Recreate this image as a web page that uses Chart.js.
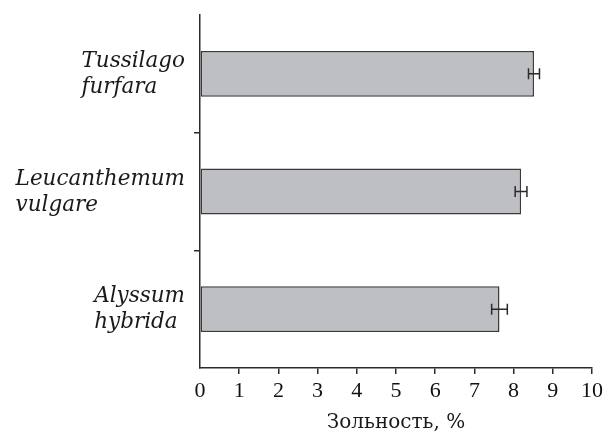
<!DOCTYPE html>
<html>
<head>
<meta charset="utf-8">
<script src="https://cdn.jsdelivr.net/npm/chart.js@4/dist/chart.umd.min.js"></script>
<style>
  html, body { margin: 0; padding: 0; background: #fff; }
  #wrap { width: 605px; height: 433px; }
</style>
</head>
<body>
<div id="wrap"><canvas id="ashChart"></canvas></div>
<script>
// ---------- DATA ----------
const species = [["Tussilago", "furfara"], ["Leucanthemum", "vulgare"], ["Alyssum", "hybrida"]];
const ashValues = [8.52, 8.19, 7.64];
const ashErrors = [0.14, 0.15, 0.2];
const xTickValues = [0, 1, 2, 3, 4, 5, 6, 7, 8, 9, 10];
const axisTitle = "Зольность, %";

const ink = "#2b2b2b";
const serif = "'DejaVu Serif', 'Liberation Serif', serif";
const numSerif = "'Liberation Serif', 'DejaVu Serif', serif";

// ---------- ERROR BARS ----------
const errorBars = {
  id: "errorBars",
  afterDatasetsDraw(chart) {
    const { ctx } = chart;
    const xs = chart.scales.x;
    const meta = chart.getDatasetMeta(0);
    ctx.save();
    ctx.strokeStyle = ink;
    ctx.lineWidth = 1.5;
    meta.data.forEach((bar, i) => {
      const x1 = xs.getPixelForValue(ashValues[i] - ashErrors[i]);
      const x2 = xs.getPixelForValue(ashValues[i] + ashErrors[i]);
      const y = bar.y;
      ctx.beginPath();
      ctx.moveTo(x1, y); ctx.lineTo(x2, y);
      ctx.moveTo(x1, y - 5.5); ctx.lineTo(x1, y + 5.5);
      ctx.moveTo(x2, y - 5.5); ctx.lineTo(x2, y + 5.5);
      ctx.stroke();
    });
    ctx.restore();
  }
};

// ---------- SPECIES LABELS (two lines, left aligned in a block) ----------
const speciesLabels = {
  id: "speciesLabels",
  afterDraw(chart) {
    const { ctx } = chart;
    const ys = chart.scales.y;
    ctx.save();
    ctx.font = "italic 21.5px " + serif;
    ctx.fillStyle = "#1a1a1a";
    ctx.textBaseline = "alphabetic";
    ctx.textAlign = "left";
    species.forEach((lines, i) => {
      const w = Math.max(...lines.map(t => ctx.measureText(t).width));
      const left = ys.right - 15 - w;
      const cy = ys.getPixelForTick(i);
      lines.forEach((t, j) => ctx.fillText(t, left, cy - 7 + j * 26));
    });
    ctx.restore();
  }
};

new Chart(document.getElementById("ashChart"), {
  type: "bar",
  data: {
    labels: species.map(s => s.join(" ")),
    datasets: [{
      data: ashValues,
      backgroundColor: "#bebfc3",
      borderColor: "#3a3a3a",
      borderWidth: 1.5,
      borderSkipped: false,
      barPercentage: 0.39,
      categoryPercentage: 1
    }]
  },
  options: {
    indexAxis: "y",
    responsive: true,
    maintainAspectRatio: false,
    animation: false,
    layout: { padding: { top: 15, right: 13, left: 0, bottom: 0 } },
    plugins: { legend: { display: false }, tooltip: { enabled: false } },
    scales: {
      x: {
        min: 0,
        max: 10,
        afterBuildTicks: (scale) => { scale.ticks = xTickValues.map(v => ({ value: v })); },
        afterFit: (scale) => {
          scale.height = 65;
          scale.paddingLeft = 0;
          scale.paddingRight = 0;
        },
        border: { display: true, color: ink, width: 1.5 },
        grid: {
          drawOnChartArea: false,
          tickLength: 6,
          lineWidth: 1.5,
          color: (c) => (c.type === "tick" && c.index > 0) ? ink : "rgba(0,0,0,0)"
        },
        ticks: { color: "#111", padding: 4, font: { family: numSerif, size: 22 } },
        title: {
          display: true,
          text: axisTitle,
          color: "#1a1a1a",
          padding: { top: 0, bottom: 0 },
          font: { family: serif, size: 20, lineHeight: 1 }
        }
      },
      y: {
        afterFit: (scale) => { scale.width = 200; },
        border: { display: true, color: ink, width: 1.5 },
        grid: {
          offset: true,
          drawOnChartArea: false,
          tickLength: 6,
          lineWidth: 1.5,
          color: (c) => (c.type === "tick" && c.index > 0) ? ink : "rgba(0,0,0,0)"
        },
        ticks: { callback: () => "" }
      }
    }
  },
  plugins: [errorBars, speciesLabels]
});
</script>
</body>
</html>
